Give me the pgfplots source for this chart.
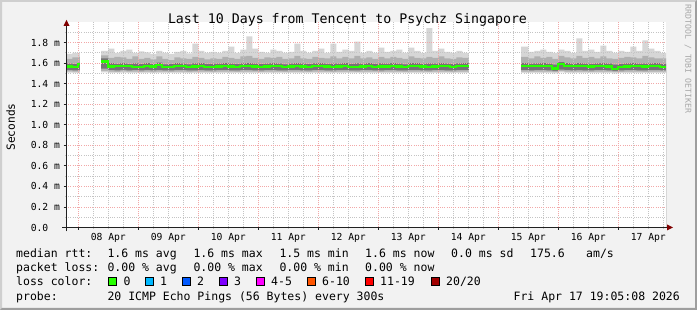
\documentclass[border=0pt]{standalone}
\usepackage{fontspec}
\setmainfont{DejaVu Sans Mono}
\usepackage{pgfplots}
\usepackage{pgfplotstable}
\pgfplotsset{compat=1.18}

\definecolor{bgc}{HTML}{F2F2F2}
\definecolor{shadea}{HTML}{CFCFCF}
\definecolor{shadeb}{HTML}{9E9E9E}
\definecolor{gridc}{HTML}{C4C4C4}
\definecolor{mgridc}{HTML}{F2A8A8}
\definecolor{arrowc}{HTML}{800000}
\definecolor{axisc}{HTML}{212121}
\definecolor{sm1}{HTML}{D6D6D6}
\definecolor{sm2}{HTML}{B0B0B0}
\definecolor{sm3}{HTML}{747474}
\definecolor{medc}{HTML}{26FF00}
\definecolor{lc0}{HTML}{26FF00}
\definecolor{lc1}{HTML}{00B8FF}
\definecolor{lc2}{HTML}{0059FF}
\definecolor{lc3}{HTML}{7E00FF}
\definecolor{lc4}{HTML}{FF00FF}
\definecolor{lc5}{HTML}{FF5500}
\definecolor{lc6}{HTML}{FF0000}
\definecolor{lc7}{HTML}{A10000}
\definecolor{wmc}{HTML}{A8A8A8}

\pgfplotstableread{
x lo mlo dlo dhi mhi hi med
7.795 1.508 1.520 1.532 1.595 1.640 1.690 1.566
7.9   1.505 1.518 1.530 1.590 1.655 1.700 1.562
8.0   1.506 1.520 1.534 1.605 1.660 1.700 1.588
8.028 1.506 1.520 1.534 1.605 1.660 1.700 1.588
}\segA

\pgfplotstableread{
x lo mlo dlo dhi mhi hi med
8.38 1.510 1.525 1.545 1.645 1.675 1.720 1.615
8.5  1.505 1.518 1.532 1.600 1.650 1.740 1.566
8.6  1.505 1.515 1.530 1.592 1.660 1.700 1.570
8.7  1.508 1.520 1.533 1.600 1.655 1.720 1.575
8.8  1.505 1.516 1.530 1.590 1.640 1.730 1.568
8.9  1.506 1.518 1.532 1.598 1.665 1.700 1.565
9.0  1.504 1.515 1.529 1.590 1.640 1.715 1.562
9.1  1.505 1.517 1.531 1.600 1.650 1.705 1.570
9.2  1.503 1.515 1.530 1.590 1.635 1.690 1.566
9.3  1.506 1.518 1.532 1.605 1.665 1.720 1.582
9.4  1.505 1.516 1.530 1.588 1.640 1.700 1.560
9.5  1.504 1.515 1.529 1.590 1.630 1.690 1.562
9.6  1.505 1.517 1.532 1.600 1.655 1.710 1.575
9.7  1.506 1.518 1.532 1.595 1.645 1.720 1.570
9.8  1.503 1.515 1.528 1.588 1.640 1.695 1.560
9.9  1.505 1.516 1.530 1.598 1.660 1.790 1.566
10.0 1.506 1.518 1.532 1.600 1.650 1.720 1.572
10.1 1.505 1.516 1.530 1.590 1.635 1.700 1.564
10.2 1.504 1.515 1.529 1.592 1.645 1.710 1.563
10.3 1.505 1.517 1.531 1.595 1.640 1.700 1.566
10.4 1.506 1.518 1.532 1.600 1.660 1.720 1.570
10.5 1.505 1.516 1.530 1.595 1.650 1.760 1.566
10.6 1.504 1.515 1.529 1.590 1.640 1.700 1.565
10.7 1.505 1.517 1.531 1.598 1.665 1.730 1.568
10.8 1.506 1.518 1.532 1.600 1.670 1.860 1.570
10.9 1.505 1.516 1.530 1.595 1.650 1.740 1.567
11.0 1.504 1.515 1.529 1.590 1.640 1.710 1.565
11.1 1.505 1.517 1.531 1.595 1.655 1.700 1.566
11.2 1.506 1.518 1.532 1.600 1.650 1.730 1.570
11.3 1.505 1.516 1.530 1.595 1.660 1.720 1.568
11.4 1.504 1.515 1.529 1.588 1.640 1.700 1.563
11.5 1.505 1.517 1.531 1.595 1.645 1.710 1.566
11.6 1.506 1.518 1.532 1.600 1.670 1.790 1.570
11.7 1.505 1.516 1.530 1.595 1.645 1.720 1.567
11.8 1.504 1.515 1.529 1.590 1.640 1.700 1.565
11.9 1.505 1.517 1.531 1.598 1.660 1.720 1.568
12.0 1.506 1.518 1.532 1.600 1.650 1.740 1.570
12.1 1.505 1.516 1.530 1.592 1.645 1.700 1.566
12.2 1.504 1.515 1.529 1.595 1.665 1.790 1.565
12.3 1.505 1.517 1.531 1.595 1.645 1.710 1.567
12.4 1.506 1.518 1.532 1.600 1.660 1.730 1.570
12.5 1.505 1.516 1.530 1.592 1.645 1.720 1.565
12.6 1.504 1.515 1.529 1.598 1.670 1.810 1.563
12.7 1.505 1.517 1.531 1.592 1.645 1.700 1.566
12.8 1.506 1.518 1.532 1.600 1.655 1.720 1.568
12.9 1.505 1.516 1.530 1.592 1.640 1.700 1.565
13.0 1.504 1.515 1.529 1.598 1.660 1.750 1.566
13.1 1.505 1.517 1.531 1.595 1.645 1.710 1.567
13.2 1.506 1.518 1.532 1.600 1.660 1.720 1.568
13.3 1.505 1.516 1.530 1.595 1.650 1.730 1.566
13.4 1.504 1.515 1.529 1.588 1.640 1.700 1.563
13.5 1.505 1.517 1.531 1.600 1.665 1.750 1.568
13.6 1.506 1.518 1.532 1.600 1.650 1.720 1.570
13.7 1.505 1.516 1.530 1.592 1.645 1.700 1.566
13.8 1.504 1.515 1.529 1.598 1.660 1.940 1.565
13.9 1.505 1.517 1.531 1.595 1.650 1.720 1.567
14.0 1.506 1.518 1.532 1.600 1.665 1.740 1.570
14.1 1.505 1.516 1.530 1.595 1.645 1.710 1.568
14.2 1.504 1.515 1.529 1.590 1.640 1.700 1.565
14.3 1.505 1.517 1.531 1.598 1.655 1.720 1.568
14.4 1.506 1.518 1.532 1.600 1.650 1.700 1.570
14.5 1.505 1.516 1.530 1.595 1.645 1.700 1.568
14.51 1.505 1.516 1.530 1.595 1.645 1.700 1.568
}\segB

\pgfplotstableread{
x lo mlo dlo dhi mhi hi med
15.38 1.505 1.518 1.532 1.600 1.660 1.760 1.570
15.5  1.504 1.516 1.530 1.595 1.645 1.710 1.571
15.6  1.505 1.517 1.531 1.598 1.665 1.720 1.570
15.7  1.506 1.518 1.532 1.600 1.650 1.730 1.572
15.8  1.505 1.516 1.530 1.595 1.660 1.710 1.568
15.9  1.500 1.512 1.524 1.585 1.640 1.700 1.548
16.0  1.510 1.522 1.537 1.610 1.670 1.730 1.590
16.1  1.505 1.517 1.531 1.600 1.655 1.720 1.570
16.2  1.505 1.516 1.530 1.595 1.645 1.700 1.569
16.3  1.506 1.518 1.532 1.600 1.670 1.840 1.572
16.4  1.505 1.516 1.530 1.595 1.650 1.720 1.568
16.5  1.504 1.515 1.529 1.592 1.660 1.730 1.566
16.6  1.505 1.517 1.531 1.598 1.645 1.710 1.568
16.7  1.506 1.518 1.532 1.600 1.665 1.770 1.570
16.8  1.505 1.516 1.530 1.595 1.645 1.720 1.566
16.9  1.500 1.512 1.524 1.585 1.640 1.700 1.542
17.0  1.504 1.515 1.529 1.590 1.650 1.720 1.560
17.1  1.505 1.517 1.531 1.598 1.660 1.710 1.566
17.2  1.506 1.518 1.532 1.600 1.655 1.760 1.570
17.3  1.505 1.516 1.530 1.595 1.645 1.720 1.568
17.4  1.504 1.515 1.529 1.595 1.670 1.820 1.566
17.5  1.505 1.517 1.531 1.598 1.655 1.740 1.568
17.6  1.506 1.518 1.532 1.600 1.645 1.720 1.570
17.7  1.505 1.516 1.530 1.592 1.645 1.700 1.562
17.795 1.505 1.516 1.530 1.592 1.645 1.700 1.562
}\segC

\newcommand{\smoke}[1]{%
  \addplot[const plot, fill=sm1, draw=none] table[x=x,y=hi]{#1} \closedcycle;
  \addplot[const plot, fill=sm2, draw=none] table[x=x,y=mhi]{#1} \closedcycle;
  \addplot[const plot, fill=sm3, draw=none] table[x=x,y=dhi]{#1} \closedcycle;
  \addplot[const plot, fill=sm2, draw=none] table[x=x,y=dlo]{#1} \closedcycle;
  \addplot[const plot, fill=sm1, draw=none] table[x=x,y=mlo]{#1} \closedcycle;
  \addplot[const plot, fill=white, draw=none] table[x=x,y=lo]{#1} \closedcycle;
}
\newcommand{\median}[1]{%
  \addplot[const plot, draw=medc, line width=2.2pt] table[x=x,y=med]{#1};
}

\newcommand{\lgf}{\fontsize{11.5}{13}\selectfont}
\newcommand{\tkf}{\fontsize{9.7}{11}\selectfont}

\pgfplotsset{chartgeom/.style={
  at={(66pt,82.5pt)}, anchor=south west,
  scale only axis, width=600pt, height=205.5pt,
  xmin=7.795, xmax=17.795, ymin=0, ymax=2.0}}

\begin{document}
\begin{tikzpicture}
% background and 3D frame
\fill[bgc] (0pt,0pt) rectangle (697pt,310pt);
\fill[shadea] (0pt,0pt) -- (0pt,310pt) -- (697pt,310pt) -- (695pt,308pt) -- (2pt,308pt) -- (2pt,2pt) -- cycle;
\fill[shadeb] (0pt,0pt) -- (697pt,0pt) -- (697pt,310pt) -- (695pt,308pt) -- (695pt,2pt) -- (2pt,2pt) -- cycle;

\begin{axis}[
  chartgeom,
  axis on top,
  axis background/.style={fill=white},
  axis line style={draw=none},
  xtick={8,9,10,11,12,13,14,15,16,17},
  xticklabels={},
  minor xtick={8.25,8.5,...,17.75},
  extra x ticks={8.5,9.5,10.5,11.5,12.5,13.5,14.5,15.5,16.5,17.5},
  extra x tick labels={08 Apr,09 Apr,10 Apr,11 Apr,12 Apr,13 Apr,14 Apr,15 Apr,16 Apr,17 Apr},
  extra x tick style={grid=none, major tick length=0pt, xticklabel style={font=\tkf, anchor=north, yshift=-2pt}},
  ytick={0,0.2,0.4,0.6,0.8,1.0,1.2,1.4,1.6,1.8},
  yticklabels={0.0\phantom{\ m},0.2 m,0.4 m,0.6 m,0.8 m,1.0 m,1.2 m,1.4 m,1.6 m,1.8 m},
  minor ytick={0.1,0.3,0.5,0.7,0.9,1.1,1.3,1.5,1.7,1.9},
  yticklabel style={font=\tkf, anchor=east},
  grid=both,
  major grid style={mgridc, line width=0.7pt, dash pattern=on 1pt off 1.2pt},
  minor grid style={gridc, line width=0.7pt, dash pattern=on 1pt off 1.2pt},
  tick align=outside,
  xtick pos=left, ytick pos=left,
  major tick length=2.5pt, minor tick length=1.5pt,
  tick style={axisc, line width=0.8pt},
  minor tick style={gridc},
]
\smoke{\segA}
\smoke{\segB}
\smoke{\segC}
\end{axis}

% median lines above the grid
\begin{axis}[chartgeom, hide axis]
\median{\segA}
\median{\segB}
\median{\segC}
\end{axis}

% axis lines and arrows
\draw[axisc, line width=1pt] (62pt,82.5pt) -- (668pt,82.5pt);
\fill[arrowc] (667pt,85.5pt) -- (673pt,82.5pt) -- (667pt,79.5pt) -- cycle;
\draw[axisc, line width=1pt] (66.5pt,78.5pt) -- (66.5pt,285pt);
\fill[arrowc] (63.5pt,284pt) -- (66.5pt,290pt) -- (69.5pt,284pt) -- cycle;

% title, axis label, watermark
\node[anchor=base, inner sep=0pt, font=\fontsize{13.25}{15}\selectfont] at (347.5pt,286pt) {Last 10 Days from Tencent to Psychz Singapore};
\node[rotate=90, inner sep=0pt, font=\fontsize{11.2}{13}\selectfont] at (10.8pt,183pt) {Seconds};
\node[rotate=-90, inner sep=0pt, text=wmc, font=\fontsize{8.2}{10}\selectfont] at (688pt,251pt) {RRDTOOL / TOBI OETIKER};

% legend rows
\begin{scope}[every node/.style={anchor=base west, inner sep=0pt, font=\lgf}]
\node at (16pt,52.5pt) {median rtt:};
\node at (107.3pt,52.5pt) {1.6 ms avg};
\node at (193.3pt,52.5pt) {1.6 ms max};
\node at (279.3pt,52.5pt) {1.5 ms min};
\node at (365pt,52.5pt) {1.6 ms now};
\node at (451pt,52.5pt) {0.0 ms sd};
\node at (530pt,52.5pt) {175.6};
\node at (586pt,52.5pt) {am/s};

\node at (16pt,38.2pt) {packet loss:};
\node at (107.3pt,38.2pt) {0.00 \% avg};
\node at (193.3pt,38.2pt) {0.00 \% max};
\node at (279.3pt,38.2pt) {0.00 \% min};
\node at (365pt,38.2pt) {0.00 \% now};

\node at (16pt,24pt) {loss color:};
\node at (123.3pt,24pt) {0};
\node at (160pt,24pt) {1};
\node at (197pt,24pt) {2};
\node at (234pt,24pt) {3};
\node at (271pt,24pt) {4-5};
\node at (322pt,24pt) {6-10};
\node at (380pt,24pt) {11-19};
\node at (446pt,24pt) {20/20};

\node at (16pt,9.7pt) {probe:};
\node at (107.3pt,9.7pt) {20 ICMP Echo Pings (56 Bytes) every 300s};
\end{scope}
\node[anchor=base east, inner sep=0pt, font=\lgf] at (680pt,9.7pt) {Fri Apr 17 19:05:08 2026};

\begin{scope}[line width=0.8pt]
\filldraw[fill=lc0, draw=black] (108.6pt,24.5pt) rectangle ++(7.6pt,8pt);
\filldraw[fill=lc1, draw=black] (145.4pt,24.5pt) rectangle ++(7.6pt,8pt);
\filldraw[fill=lc2, draw=black] (182.4pt,24.5pt) rectangle ++(7.6pt,8pt);
\filldraw[fill=lc3, draw=black] (219.4pt,24.5pt) rectangle ++(7.6pt,8pt);
\filldraw[fill=lc4, draw=black] (256.4pt,24.5pt) rectangle ++(7.6pt,8pt);
\filldraw[fill=lc5, draw=black] (307.4pt,24.5pt) rectangle ++(7.6pt,8pt);
\filldraw[fill=lc6, draw=black] (365.4pt,24.5pt) rectangle ++(7.6pt,8pt);
\filldraw[fill=lc7, draw=black] (431.4pt,24.5pt) rectangle ++(7.6pt,8pt);
\end{scope}

\pgfresetboundingbox
\path[use as bounding box] (0pt,0pt) rectangle (697pt,310pt);
\end{tikzpicture}
\end{document}
